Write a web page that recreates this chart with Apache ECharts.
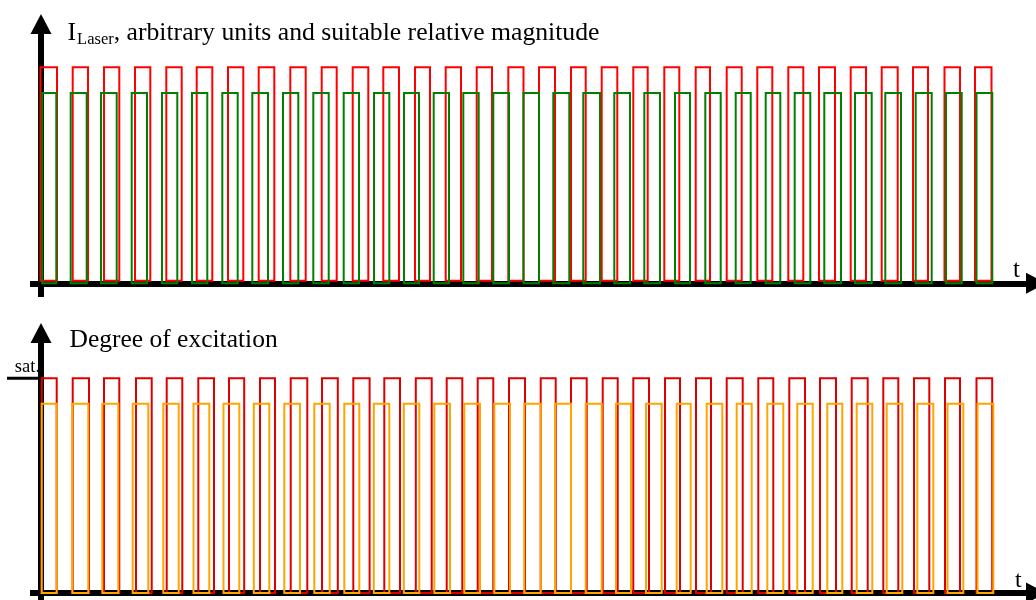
<!DOCTYPE html>
<html><head><meta charset="utf-8">
<script src="https://cdn.jsdelivr.net/npm/echarts@6/dist/echarts.min.js"></script>
<style>html,body{margin:0;padding:0;background:#fff}#c{width:1036px;height:600px}</style>
</head><body><div id="c"></div>
<script>
// Time in arbitrary units (0 = vertical axis). Pulse on / off instants.
const laserRedOn  = [-0.05,3.17,6.30,9.40,12.53,15.57,18.70,21.77,24.93,28.07,31.17,34.23,37.40,40.47,43.57,46.73,49.80,53.00,56.07,59.23,62.33,65.47,68.57,71.63,74.73,77.80,80.97,84.07,87.20,90.35,93.40];
const laserRedOff = [1.60,4.70,7.83,10.93,14.07,17.13,20.23,23.33,26.47,29.57,32.73,35.80,38.90,42.00,45.10,48.25,51.40,54.47,57.63,60.67,63.83,66.90,70.07,73.13,76.23,79.40,82.50,85.67,88.70,91.90,95.05];
const laserGreenOn  = [0.13,2.97,6.00,9.07,12.10,15.10,18.13,21.13,24.20,27.23,30.27,33.30,36.30,39.27,42.23,45.23,48.25,51.23,54.23,57.33,60.33,63.40,66.43,69.47,72.47,75.37,78.33,81.40,84.43,87.47,90.50,93.55];
const laserGreenOff = [1.53,4.57,7.57,10.60,13.63,16.63,19.67,22.70,25.73,28.77,31.80,34.83,37.80,40.80,43.77,46.80,49.80,52.83,55.90,58.90,61.90,64.90,67.97,70.97,73.93,76.93,80.00,83.07,86.00,89.07,92.07,95.13];
const excRedOn  = [0.07,3.17,6.30,9.50,12.57,15.73,18.80,21.90,24.97,28.10,31.23,34.33,37.48,40.57,43.67,46.80,49.97,53.00,56.17,59.23,62.40,65.50,68.57,71.73,74.83,77.90,81.07,84.23,87.30,90.40,93.55];
const excRedOff = [1.57,4.80,7.83,11.07,14.13,17.30,20.32,23.40,26.63,29.68,32.86,35.90,39.07,42.13,45.23,48.40,51.47,54.57,57.67,60.80,63.90,67.00,70.17,73.23,76.40,79.50,82.67,85.73,88.83,91.90,95.12];
const excOrangeOn  = [0.07,3.13,6.13,9.17,12.23,15.25,18.25,21.28,24.33,27.33,30.33,33.28,36.28,39.33,42.33,45.33,48.32,51.40,54.47,57.50,60.50,63.57,66.57,69.57,72.63,75.63,78.63,81.57,84.57,87.63,90.65,93.65];
const excOrangeOff = [1.57,4.73,7.73,10.73,13.77,16.83,19.83,22.83,25.90,28.87,31.83,34.83,37.83,40.90,43.90,46.90,49.97,53.00,56.07,59.00,62.07,64.97,68.13,71.07,74.23,77.17,80.13,83.13,86.13,89.23,92.23,95.23];
// [low, high] levels of each pulse train
const laserRedLevel = [0.012, 1.0];
const laserGreenLevel = [0.0, 0.881];
const excRedLevel = [0.0, 1.0];
const excOrangeLevel = [0.0, 0.881];
const SAT_LEVEL = 1.0;
const titleTop = ['I', 'Laser', ', arbitrary units and suitable relative magnitude'];
const titleBottom = 'Degree of excitation';
const axisName = 't';

const FONT = '"Liberation Serif","Times New Roman",serif';
const chart = echarts.init(document.getElementById('c'), null, {renderer:'canvas'});

function pulseSeries(name, on, off, lv, color, gi) {
  return {
    type:'custom', name, xAxisIndex:gi, yAxisIndex:gi, clip:false, silent:true, z:3,
    data: on.map((t,i)=>[t, off[i], lv[0], lv[1]]),
    encode:{x:[0,1], y:[2,3]},
    renderItem:(params, api)=>{
      const p0 = api.coord([api.value(0), api.value(3)]);
      const p1 = api.coord([api.value(1), api.value(2)]);
      return {type:'rect', shape:{x:p0[0], y:p0[1], width:p1[0]-p0[0], height:p1[1]-p0[1]},
        style:{fill:'none', stroke:color, lineWidth:2}};
    }
  };
}
const axLine = {show:true, onZero:true, symbol:['none','triangle'], symbolSize:[21,20], lineStyle:{color:'#000', width:6, cap:'butt'}};
function xAx(i){return {type:'value', gridIndex:i, min:-1.1, max:99.5, axisLine:axLine,
  axisTick:{show:false}, axisLabel:{show:false}, splitLine:{show:false}};}
function yAx(i,min,max){return {type:'value', gridIndex:i, min, max, axisLine:axLine,
  axisTick:{show:false}, axisLabel:{show:false}, splitLine:{show:false}};}

chart.setOption({
  animation:false,
  grid:[{left:30, right:0, top:24.1, height:272.9},{left:30, right:0, top:333.1, bottom:0}],
  xAxis:[xAx(0), xAx(1)],
  yAxis:[yAx(0,-0.0634,1.2), yAx(1,-0.0326,1.21)],
  series:[
    pulseSeries('laserRed', laserRedOn, laserRedOff, laserRedLevel, '#ff0000', 0),
    pulseSeries('laserGreen', laserGreenOn, laserGreenOff, laserGreenLevel, '#008000', 0),
    pulseSeries('excRed', excRedOn, excRedOff, excRedLevel, '#dd0000', 1),
    pulseSeries('excOrange', excOrangeOn, excOrangeOff, excOrangeLevel, '#ffa500', 1)
  ]
});

// text helpers
const ctx = document.createElement('canvas').getContext('2d');
function tw(s, size){ctx.font = size+'px '+FONT; return ctx.measureText(s).width;}
function txt(s, x, baseline, size, align){
  return {type:'text', z:10, silent:true, style:{text:s, x, y: baseline - 0.3375*size + 2, font: size+'px '+FONT,
    fill:'#000', align: align||'left', verticalAlign:'middle'}};
}
const big = 25.7, sub = 16.5;
const x0 = 67.5;
const x1 = x0 + tw(titleTop[0], big) + 1;
const x2 = x1 + tw(titleTop[1], sub);
const sat = chart.convertToPixel({gridIndex:1}, [0, SAT_LEVEL]);
const t0 = chart.convertToPixel({gridIndex:0}, [0, 0]);
const t1 = chart.convertToPixel({gridIndex:1}, [0, 0]);
chart.setOption({graphic:[
  txt(titleTop[0], x0, 40, big),
  txt(titleTop[1], x1, 43, sub),
  txt(titleTop[2], x2, 40, big),
  txt(titleBottom, 69.5, 347, 25.5),
  txt(axisName, 1013, t0[1]-6, 25),
  txt(axisName, 1015, t1[1]-6, 24),
  {type:'line', z:10, silent:true, shape:{x1:7, y1:sat[1], x2:sat[0], y2:sat[1]}, style:{stroke:'#000', lineWidth:3}},
  txt('sat.', 40, sat[1]-7, 18.5, 'right')
]});
</script></body></html>
